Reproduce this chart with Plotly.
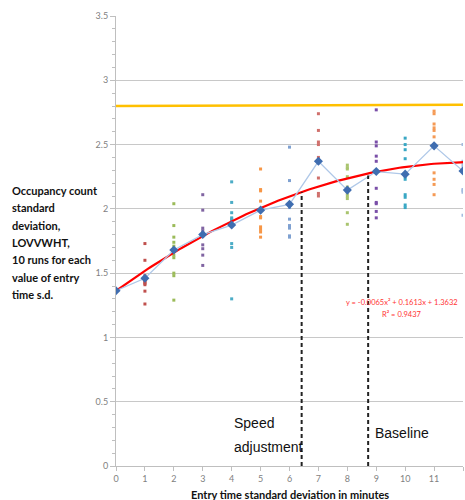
import plotly.graph_objects as go

# ---------------- data ----------------
entry_sd = [0, 1, 2, 3, 4, 5, 6, 7, 8, 9, 10, 11, 12]

runs = {
    0: [1.36, 1.36, 1.37, 1.36, 1.36, 1.37, 1.36, 1.36, 1.37, 1.36],
    1: [1.73, 1.60, 1.48, 1.45, 1.44, 1.43, 1.42, 1.41, 1.36, 1.26],
    2: [2.04, 1.87, 1.78, 1.74, 1.71, 1.64, 1.62, 1.50, 1.48, 1.29],
    3: [2.11, 1.99, 1.85, 1.83, 1.81, 1.79, 1.72, 1.69, 1.64, 1.56],
    4: [2.21, 2.05, 1.97, 1.93, 1.91, 1.92, 1.90, 1.73, 1.70, 1.30],
    5: [2.31, 2.15, 2.14, 2.06, 1.94, 1.93, 1.86, 1.84, 1.82, 1.78],
    6: [2.48, 2.22, 2.05, 2.03, 2.01, 1.92, 1.87, 1.85, 1.79, 1.78],
    7: [2.74, 2.61, 2.52, 2.50, 2.40, 2.37, 2.36, 2.24, 2.12, 2.10],
    8: [2.34, 2.32, 2.31, 2.25, 2.17, 2.12, 2.10, 2.08, 1.97, 1.88],
    9: [2.77, 2.52, 2.49, 2.41, 2.37, 2.16, 2.05, 2.04, 1.98, 1.93],
    10: [2.55, 2.50, 2.46, 2.39, 2.25, 2.23, 2.11, 2.09, 2.03, 2.01],
    11: [2.76, 2.74, 2.66, 2.63, 2.61, 2.56, 2.28, 2.23, 2.19, 2.11],
    12: [2.50, 2.37, 2.35, 2.33, 2.30, 2.28, 2.15, 2.14, 2.13, 1.95],
}
run_colors = ["#4F81BD", "#C0504D", "#9BBB59", "#8064A2", "#4BACC6", "#F79646",
              "#7FA1D1", "#D0706C", "#A9C46E", "#7A4FA8", "#39A7C4", "#F59A55", "#A3BCE0"]

mean_sd = [1.363, 1.46, 1.68, 1.80, 1.874, 1.99, 2.035, 2.37, 2.146, 2.29, 2.27, 2.49, 2.294]

trend_coeffs = [-0.0065, 0.1613, 1.3632]   # displayed Excel polynomial trendline
trend_x = [i / 10 for i in range(0, 121)]

yellow_x = [0, 12]
yellow_y = [2.80, 2.81]

divider_x = [6.42, 8.72]
divider_top = [2.13, 2.26]

y_label_lines = ["Occupancy count", "standard", "deviation,", "LOVVWHT,",
                 "10 runs for each", "value of entry", "time s.d."]

# ---------------- figure ----------------
fig = go.Figure()

for x in entry_sd:
    fig.add_trace(go.Scatter(
        x=[x] * len(runs[x]), y=runs[x], mode="markers",
        marker=dict(symbol="square", size=3, color=run_colors[x]),
        showlegend=False, hoverinfo="skip"))

fig.add_trace(go.Scatter(
    x=yellow_x, y=yellow_y, mode="lines",
    line=dict(color="#FFC000", width=2.5), showlegend=False))

a, b, c = trend_coeffs
trend_y = [a * t * t + b * t + c for t in trend_x]
fig.add_trace(go.Scatter(
    x=trend_x, y=trend_y, mode="lines",
    line=dict(color="#FF0000", width=2.2), showlegend=False))

fig.add_trace(go.Scatter(
    x=entry_sd, y=mean_sd, mode="lines+markers",
    line=dict(color="#AFC8E8", width=1.3),
    marker=dict(symbol="diamond", size=7, color="#3F6DB0"),
    showlegend=False))

for dx, dt in zip(divider_x, divider_top):
    fig.add_trace(go.Scatter(
        x=[dx, dx], y=[0, dt], mode="lines",
        line=dict(color="#222222", width=2, dash="4px,3px"),
        showlegend=False))

tick_font = dict(family="Lato, sans-serif", size=9, color="#7F7F7F")

fig.update_xaxes(
    range=[0, 12], dtick=1, tick0=0, showgrid=False, zeroline=False,
    showline=True, linecolor="#BFBFBF", linewidth=1,
    ticks="outside", ticklen=4, tickcolor="#BFBFBF", tickfont=tick_font)
fig.update_yaxes(
    range=[0, 3.5], dtick=0.5, tick0=0, showgrid=True, gridcolor="#C8C8C8",
    gridwidth=1, zeroline=False, showline=True, linecolor="#BFBFBF",
    ticks="outside", ticklen=5, tickcolor="#BFBFBF", tickfont=tick_font,
    minor=dict(dtick=0.1, ticks="outside", ticklen=3, tickcolor="#BFBFBF", showgrid=False))

text_font = dict(family="Liberation Sans, Arial", size=14, color="#111111")
eq_font = dict(family="Lato, sans-serif", size=7.5, color="#FF3333")
anns = [
    dict(x=4.0, y=0.334, text="Speed", xanchor="left", yanchor="middle", font=text_font),
    dict(x=4.0, y=0.148, text="adjustment", xanchor="left", yanchor="middle", font=text_font),
    dict(x=8.89, y=0.257, text="Baseline", xanchor="left", yanchor="middle", font=text_font),
    dict(x=9.89, y=1.27, text="y = -0.0065x² + 0.1613x + 1.3632", xanchor="center",
         yanchor="middle", font=eq_font),
    dict(x=9.89, y=1.18, text="R² = 0.9437", xanchor="center", yanchor="middle", font=eq_font),
    dict(xref="paper", yref="paper", x=0.5, y=-0.064,
         text="<b>Entry time standard deviation in minutes</b>", xanchor="center", yanchor="middle",
         font=dict(family="Lato, sans-serif", size=11, color="#111111")),
]
for i, line in enumerate(y_label_lines):
    ypx = 190.5 + i * 17.3
    anns.append(dict(xref="paper", yref="paper", x=(10 - 116) / 347, y=(466 - ypx) / 450,
                     text="<b>" + line + "</b>", xanchor="left", yanchor="middle",
                     font=dict(family="Lato, sans-serif", size=11, color="#111111")))
for an in anns:
    an.setdefault("showarrow", False)

fig.update_layout(
    width=465, height=500,
    margin=dict(l=116, r=2, t=16, b=34),
    plot_bgcolor="white", paper_bgcolor="white",
    annotations=anns,
)

fig.write_html("out.html", config={"displayModeBar": False},
               post_script="document.body.style.margin='0';")
